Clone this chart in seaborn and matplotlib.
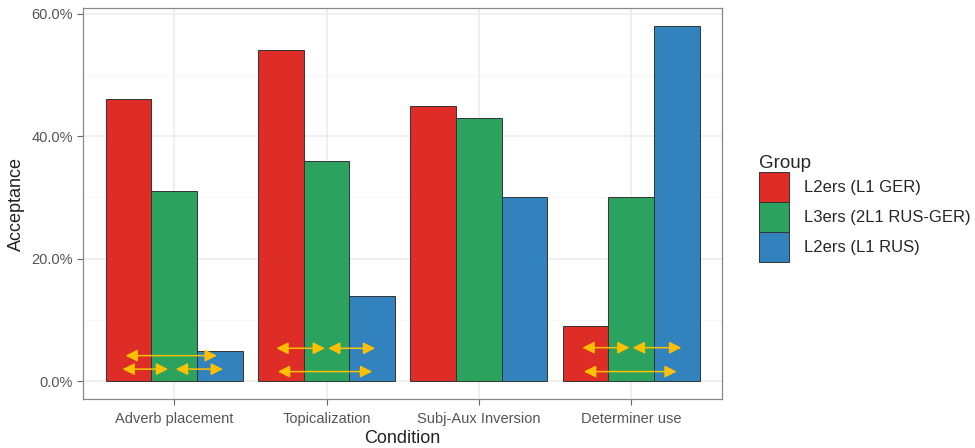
import matplotlib
matplotlib.use("Agg")
import matplotlib.pyplot as plt
import seaborn as sns
import pandas as pd
from matplotlib.ticker import FuncFormatter, MultipleLocator
from matplotlib.patches import Patch

conditions = ["Adverb placement", "Topicalization", "Subj-Aux Inversion", "Determiner use"]
groups = ["L2ers (L1 GER)", "L3ers (2L1 RUS-GER)", "L2ers (L1 RUS)"]
l2_ger = [46, 54, 45, 9]
l3 = [31, 36, 43, 30]
l2_rus = [5, 14, 30, 58]
colors = ["#DE2D26", "#2CA25F", "#3182BD"]

# arrows: (condition index, x-offset start, x-offset end, y value in %)
arrows = [
    (0, -0.32, 0.28, 4.2), (0, -0.34, -0.04, 2.0), (0, 0.01, 0.32, 2.0),
    (1, -0.33, -0.01, 5.4), (1, 0.01, 0.32, 5.4), (1, -0.32, 0.30, 1.6),
    (3, -0.32, -0.01, 5.5), (3, 0.01, 0.33, 5.5), (3, -0.31, 0.30, 1.6),
]

df = pd.DataFrame({
    "Condition": conditions * 3,
    "Group": [groups[0]] * 4 + [groups[1]] * 4 + [groups[2]] * 4,
    "Acceptance": l2_ger + l3 + l2_rus,
})

sns.set_theme(style="white")
plt.rcParams["font.family"] = ["Liberation Sans", "DejaVu Sans"]

fig = plt.figure(figsize=(9.75, 4.48), dpi=100)
ax = fig.add_axes([0.085, 0.109, 0.656, 0.873])

sns.barplot(data=df, x="Condition", y="Acceptance", hue="Group", order=conditions,
            hue_order=groups, palette=colors, width=0.9, edgecolor="#333333",
            linewidth=0.7, saturation=1, ax=ax, legend=False, zorder=3)

ax.set_xlim(-0.6, 3.6)
ax.set_ylim(-2.9, 60.9)
ax.yaxis.set_major_locator(MultipleLocator(20))
ax.yaxis.set_minor_locator(MultipleLocator(10))
ax.yaxis.set_major_formatter(FuncFormatter(lambda v, p: f"{v:.1f}%"))
ax.grid(True, which="major", color="#EBEBEB", lw=1.1, zorder=0)
ax.grid(True, which="minor", axis="y", color="#F4F4F4", lw=0.6, zorder=0)
ax.set_axisbelow(True)
for s in ax.spines.values():
    s.set_color("#888888")
    s.set_linewidth(0.9)
ax.tick_params(axis="both", which="major", length=4, width=0.8, color="#666666",
               labelsize=10.5, labelcolor="#555555", bottom=True, left=True, pad=3)
ax.tick_params(axis="x", which="major", pad=5)
ax.tick_params(axis="both", which="minor", length=0)
ax.set_xlabel("Condition", fontsize=13, color="#222222", labelpad=3)
ax.set_ylabel("Acceptance", fontsize=13, color="#222222", labelpad=5)

for ci, x0, x1, yv in arrows:
    ax.annotate("", xy=(ci + x1, yv), xytext=(ci + x0, yv),
                arrowprops=dict(arrowstyle="<|-|>,head_length=0.6,head_width=0.3",
                                color="#FFC000", lw=1.1,
                                mutation_scale=12, shrinkA=0, shrinkB=0), zorder=5)

handles = [Patch(facecolor=c, edgecolor="#333333", linewidth=0.7) for c in colors]
leg = fig.legend(handles, groups, title="Group", loc="center left",
                 bbox_to_anchor=(0.767, 0.535), frameon=False, fontsize=12,
                 title_fontsize=13.5, handlelength=1.75, handleheight=2.4,
                 labelspacing=0.0, handletextpad=0.9, alignment="left",
                 borderpad=0.2)

fig.savefig("out.png", dpi=100)
